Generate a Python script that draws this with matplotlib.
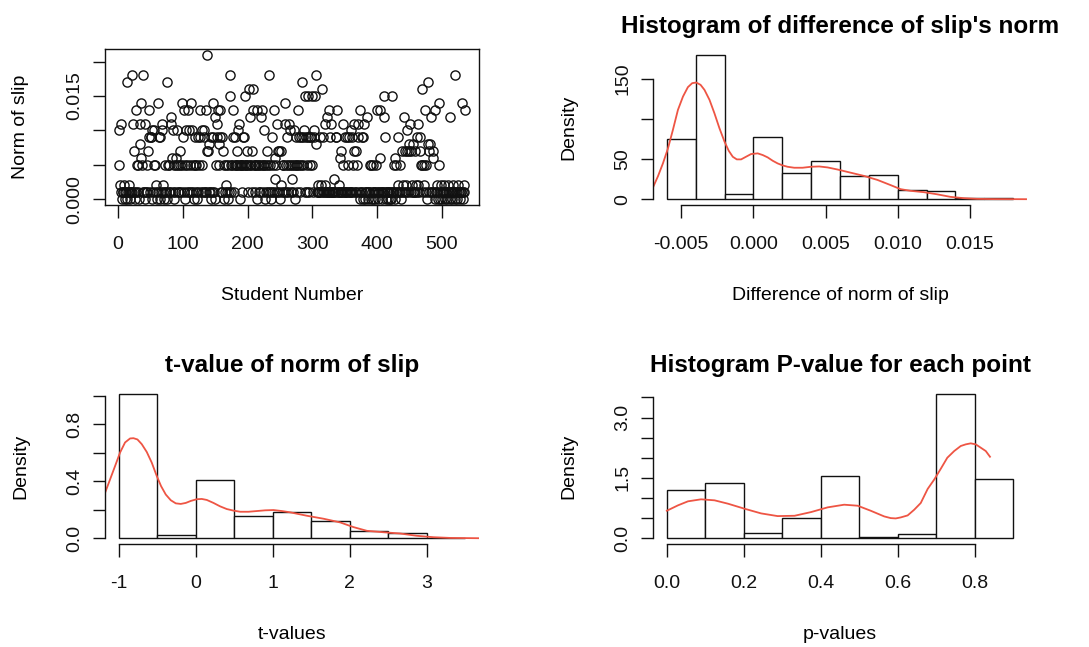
import matplotlib
matplotlib.use("Agg")
import matplotlib.pyplot as plt

plt.rcParams["font.family"] = ["Liberation Sans", "DejaVu Sans"]

# norm of slip for each student, in thousandths
slip_norm_k = [
    10, 5, 2, 1, 11, 0, 1, 1, 2, 0, 1, 1, 17, 0, 1, 2, 1, 0, 1, 1,
    1, 18, 11, 7, 1, 0, 13, 1, 5, 5, 1, 0, 11, 8, 14, 6, 5, 1, 18, 1,
    11, 0, 1, 5, 1, 7, 13, 9, 1, 9, 9, 0, 10, 1, 5, 10, 5, 1, 2, 0,
    14, 1, 9, 0, 9, 1, 11, 10, 1, 2, 0, 5, 1, 1, 0, 17, 5, 1, 5, 1,
    12, 11, 6, 1, 10, 5, 0, 1, 5, 6, 10, 5, 1, 1, 7, 5, 1, 14, 5, 9,
    1, 13, 5, 0, 10, 1, 5, 13, 1, 10, 5, 14, 1, 10, 5, 1, 0, 9, 5, 1,
    5, 0, 1, 9, 5, 13, 9, 1, 5, 10, 1, 9, 10, 1, 13, 1, 21, 7, 7, 1,
    8, 1, 9, 0, 1, 14, 9, 1, 0, 12, 5, 11, 9, 13, 8, 5, 9, 13, 1, 9,
    1, 7, 0, 5, 1, 5, 2, 1, 5, 0, 1, 15, 18, 5, 1, 5, 13, 9, 1, 5,
    9, 5, 5, 7, 10, 11, 5, 0, 5, 5, 1, 5, 9, 9, 5, 15, 5, 5, 7, 5,
    1, 16, 5, 12, 5, 1, 7, 13, 16, 5, 1, 5, 5, 13, 0, 5, 1, 5, 1, 5,
    12, 13, 5, 1, 5, 10, 0, 1, 5, 7, 1, 5, 18, 1, 5, 0, 1, 9, 5, 13,
    1, 6, 3, 5, 11, 1, 7, 1, 7, 0, 2, 7, 1, 5, 5, 1, 14, 11, 5, 1,
    9, 5, 1, 11, 10, 5, 1, 3, 5, 1, 10, 5, 0, 9, 5, 1, 5, 13, 9, 5,
    1, 9, 5, 17, 9, 5, 10, 1, 15, 9, 1, 5, 9, 15, 1, 9, 5, 9, 15, 5,
    1, 9, 10, 15, 8, 18, 1, 1, 2, 1, 1, 9, 1, 2, 16, 1, 9, 1, 2, 11,
    1, 1, 12, 1, 13, 1, 1, 9, 11, 1, 1, 1, 3, 1, 1, 9, 9, 13, 1, 1,
    2, 1, 6, 1, 7, 1, 5, 11, 1, 9, 1, 1, 9, 1, 5, 9, 1, 1, 10, 1,
    9, 1, 5, 11, 7, 1, 7, 1, 5, 9, 11, 1, 0, 13, 1, 1, 9, 0, 9, 11,
    1, 0, 1, 12, 1, 0, 1, 1, 5, 0, 5, 1, 0, 5, 1, 1, 0, 5, 1, 13,
    1, 0, 1, 13, 6, 1, 0, 1, 1, 12, 15, 9, 1, 0, 1, 1, 0, 1, 1, 0,
    1, 0, 15, 1, 1, 5, 0, 6, 5, 1, 1, 2, 9, 1, 5, 1, 0, 7, 1, 2,
    1, 12, 7, 1, 2, 10, 7, 1, 8, 7, 11, 1, 7, 2, 1, 8, 1, 7, 1, 2,
    1, 9, 2, 11, 1, 7, 9, 5, 16, 5, 1, 5, 2, 13, 5, 1, 0, 8, 17, 1,
    7, 8, 1, 12, 1, 6, 7, 1, 0, 13, 1, 2, 1, 0, 5, 14, 1, 0, 2, 1,
    0, 1, 1, 2, 0, 1, 1, 0, 1, 2, 1, 0, 12, 1, 1, 0, 1, 2, 1, 0,
    18, 1, 1, 0, 2, 1, 1, 0, 1, 1, 14, 1, 0, 2, 1, 13,
]
slip_norm = [v / 1000 for v in slip_norm_k]
students = list(range(1, len(slip_norm) + 1))

# histogram of the difference of slip's norm
diff_breaks = [-0.006, -0.004, -0.002, 0.0, 0.002, 0.004, 0.006,
               0.008, 0.010, 0.012, 0.014, 0.016, 0.018]
diff_density = [75, 180, 7, 78, 32.5, 48, 29, 30, 11.7, 9.6, 0.9, 0.9]
diff_kde_x = [-0.00696, -0.00661, -0.00627, -0.00592, -0.00558, -0.00523,
              -0.00488, -0.00454, -0.00424, -0.00396, -0.00366, -0.00339,
              -0.00304, -0.0027, -0.00235, -0.0020, -0.00171, -0.00143,
              -0.00115, -0.00085, -0.00051, -0.00016, 0.0003, 0.00065,
              0.00099, 0.00134, 0.00168, 0.00203, 0.00237, 0.00283,
              0.00341, 0.00399, 0.00456, 0.00514, 0.00583, 0.00675,
              0.00767, 0.0086, 0.00952, 0.0102, 0.0109, 0.01182, 0.0127,
              0.01366, 0.01459, 0.0155, 0.0167, 0.0189]
diff_kde_y = [14.6, 28.75, 44.6, 63.3, 86.25, 111.25, 127.9, 139.6, 144.6,
              145.4, 142.5, 136.25, 123.75, 107.1, 88.3, 71.7, 60.4, 52.9,
              49.6, 49.6, 52.9, 56.25, 57.1, 55.0, 52.1, 47.9, 44.6, 42.1,
              40.4, 39.2, 39.2, 40.4, 40.8, 39.6, 37.0, 33.0, 29.0, 24.0,
              17.5, 12.5, 10.4, 8.75, 6.2, 2.9, 1.25, 0.4, 0.1, 0.0]

# histogram of t-values
t_breaks = [-1.0, -0.5, 0.0, 0.5, 1.0, 1.5, 2.0, 2.5, 3.0, 3.5]
t_density = [1.015, 0.026, 0.408, 0.153, 0.186, 0.12, 0.05, 0.038, 0.004]
t_kde_x = [-1.179, -1.114, -1.049, -0.984, -0.919, -0.854, -0.81, -0.758,
           -0.702, -0.637, -0.572, -0.507, -0.451, -0.39, -0.325, -0.26,
           -0.195, -0.13, -0.065, 0.013, 0.078, 0.143, 0.23, 0.316, 0.403,
           0.49, 0.577, 0.685, 0.793, 0.902, 1.01, 1.118, 1.227, 1.443,
           1.66, 1.877, 2.05, 2.224, 2.44, 2.657, 2.874, 3.09, 3.307, 3.684]
t_kde_y = [0.319, 0.413, 0.507, 0.602, 0.673, 0.701, 0.703, 0.694, 0.661,
           0.606, 0.531, 0.437, 0.366, 0.307, 0.267, 0.245, 0.241, 0.248,
           0.262, 0.274, 0.276, 0.269, 0.248, 0.224, 0.205, 0.194, 0.186,
           0.186, 0.191, 0.196, 0.198, 0.191, 0.182, 0.158, 0.137, 0.111,
           0.078, 0.052, 0.042, 0.033, 0.017, 0.007, 0.002, 0.0]

# histogram of p-values
p_breaks = [0.0, 0.1, 0.2, 0.3, 0.4, 0.5, 0.6, 0.7, 0.8, 0.9]
p_density = [1.208, 1.375, 0.142, 0.508, 1.558, 0.025, 0.117, 3.59, 1.483]
p_kde_x = [0.0, 0.029, 0.055, 0.089, 0.124, 0.159, 0.202, 0.245, 0.288,
           0.332, 0.375, 0.418, 0.461, 0.496, 0.53, 0.565, 0.582, 0.595,
           0.608, 0.626, 0.643, 0.66, 0.678, 0.695, 0.712, 0.729, 0.747,
           0.764, 0.777, 0.79, 0.803, 0.816, 0.829, 0.84]
p_kde_y = [0.683, 0.817, 0.917, 0.967, 0.942, 0.858, 0.733, 0.617, 0.55,
           0.558, 0.65, 0.767, 0.833, 0.808, 0.683, 0.542, 0.5, 0.492,
           0.517, 0.567, 0.708, 0.875, 1.225, 1.458, 1.725, 2.0, 2.167,
           2.292, 2.333, 2.358, 2.333, 2.25, 2.167, 2.025]

INK = "#111111"
KDE_RED = "#EE5544"
LABEL_SIZE = 14
TITLE_SIZE = 17.5


def padded(lo, hi):
    d = (hi - lo) * 0.04
    return lo - d, hi + d


def style_axes(ax, xticks, xlabels, yticks, ylabels, xlabel, ylabel, title=None):
    ax.set_xticks(xticks)
    ax.set_xticklabels(xlabels)
    ax.set_yticks(yticks)
    ax.set_yticklabels(ylabels, rotation=90, va="center")
    ax.tick_params(direction="out", length=9, width=1.0, colors=INK,
                   labelsize=LABEL_SIZE)
    ax.tick_params(axis="x", pad=13)
    ax.tick_params(axis="y", pad=6.5)
    ax.set_xlabel(xlabel, fontsize=LABEL_SIZE, va="center")
    ax.xaxis.set_label_coords(0.5, -0.58)
    ax.set_ylabel(ylabel, fontsize=LABEL_SIZE, va="center")
    ax.yaxis.set_label_coords(-0.225, 0.5)
    if title:
        ax.text(0.5, 1.145, title, transform=ax.transAxes, ha="center",
                va="center", fontsize=TITLE_SIZE, fontweight="bold")


def hist_panel(ax, breaks, density, kde_x, kde_y, xticks, xlabels,
               yticks, ylabels, xlabel, title):
    widths = [b - a for a, b in zip(breaks[:-1], breaks[1:])]
    ax.bar(breaks[:-1], density, width=widths, align="edge", color="white",
           edgecolor=INK, linewidth=1.0)
    ax.plot(kde_x, kde_y, color=KDE_RED, linewidth=1.3)
    ax.set_xlim(*padded(breaks[0], breaks[-1]))
    ax.set_ylim(*padded(0, max(density)))
    for side in ("top", "right"):
        ax.spines[side].set_visible(False)
    ax.spines["left"].set_bounds(yticks[0], yticks[-1])
    ax.spines["bottom"].set_bounds(xticks[0], xticks[-1])
    for side in ("left", "bottom"):
        ax.spines[side].set_linewidth(1.0)
        ax.spines[side].set_color(INK)
    style_axes(ax, xticks, xlabels, yticks, ylabels, xlabel, "Density", title)


fig = plt.figure(figsize=(10.89, 6.47), dpi=100)
W_AX, H_AX = 0.3434, 0.2411
ax_scatter = fig.add_axes([0.0964, 0.6832, W_AX, H_AX])
ax_diff = fig.add_axes([0.5996, 0.6832, W_AX, H_AX])
ax_t = fig.add_axes([0.0964, 0.1592, W_AX, H_AX])
ax_p = fig.add_axes([0.5996, 0.1592, W_AX, H_AX])

# scatter of slip norm per student
ax_scatter.plot(students, slip_norm, linestyle="none", marker="o",
                markersize=6.6, markerfacecolor="none", markeredgecolor=INK,
                markeredgewidth=1.0)
ax_scatter.set_xlim(*padded(1, len(students)))
ax_scatter.set_ylim(*padded(0, max(slip_norm)))
for sp in ax_scatter.spines.values():
    sp.set_linewidth(1.0)
    sp.set_color(INK)
style_axes(ax_scatter, [0, 100, 200, 300, 400, 500],
           ["0", "100", "200", "300", "400", "500"],
           [0.0, 0.005, 0.010, 0.015, 0.020],
           ["0.000", "", "", "0.015", ""],
           "Student Number", "Norm of slip")

hist_panel(ax_diff, diff_breaks, diff_density, diff_kde_x, diff_kde_y,
           [-0.005, 0.0, 0.005, 0.010, 0.015],
           ["-0.005", "0.000", "0.005", "0.010", "0.015"],
           [0, 50, 100, 150], ["0", "50", "", "150"],
           "Difference of norm of slip",
           "Histogram of difference of slip's norm")

hist_panel(ax_t, t_breaks, t_density, t_kde_x, t_kde_y,
           [-1, 0, 1, 2, 3], ["-1", "0", "1", "2", "3"],
           [0.0, 0.2, 0.4, 0.6, 0.8, 1.0],
           ["0.0", "", "0.4", "", "0.8", ""],
           "t-values", "t-value of norm of slip")

hist_panel(ax_p, p_breaks, p_density, p_kde_x, p_kde_y,
           [0.0, 0.2, 0.4, 0.6, 0.8], ["0.0", "0.2", "0.4", "0.6", "0.8"],
           [0.0, 0.5, 1.0, 1.5, 2.0, 2.5, 3.0, 3.5],
           ["0.0", "", "", "1.5", "", "", "3.0", ""],
           "p-values", "Histogram P-value for each point")

fig.savefig("out.png", dpi=100)
plt.close(fig)
